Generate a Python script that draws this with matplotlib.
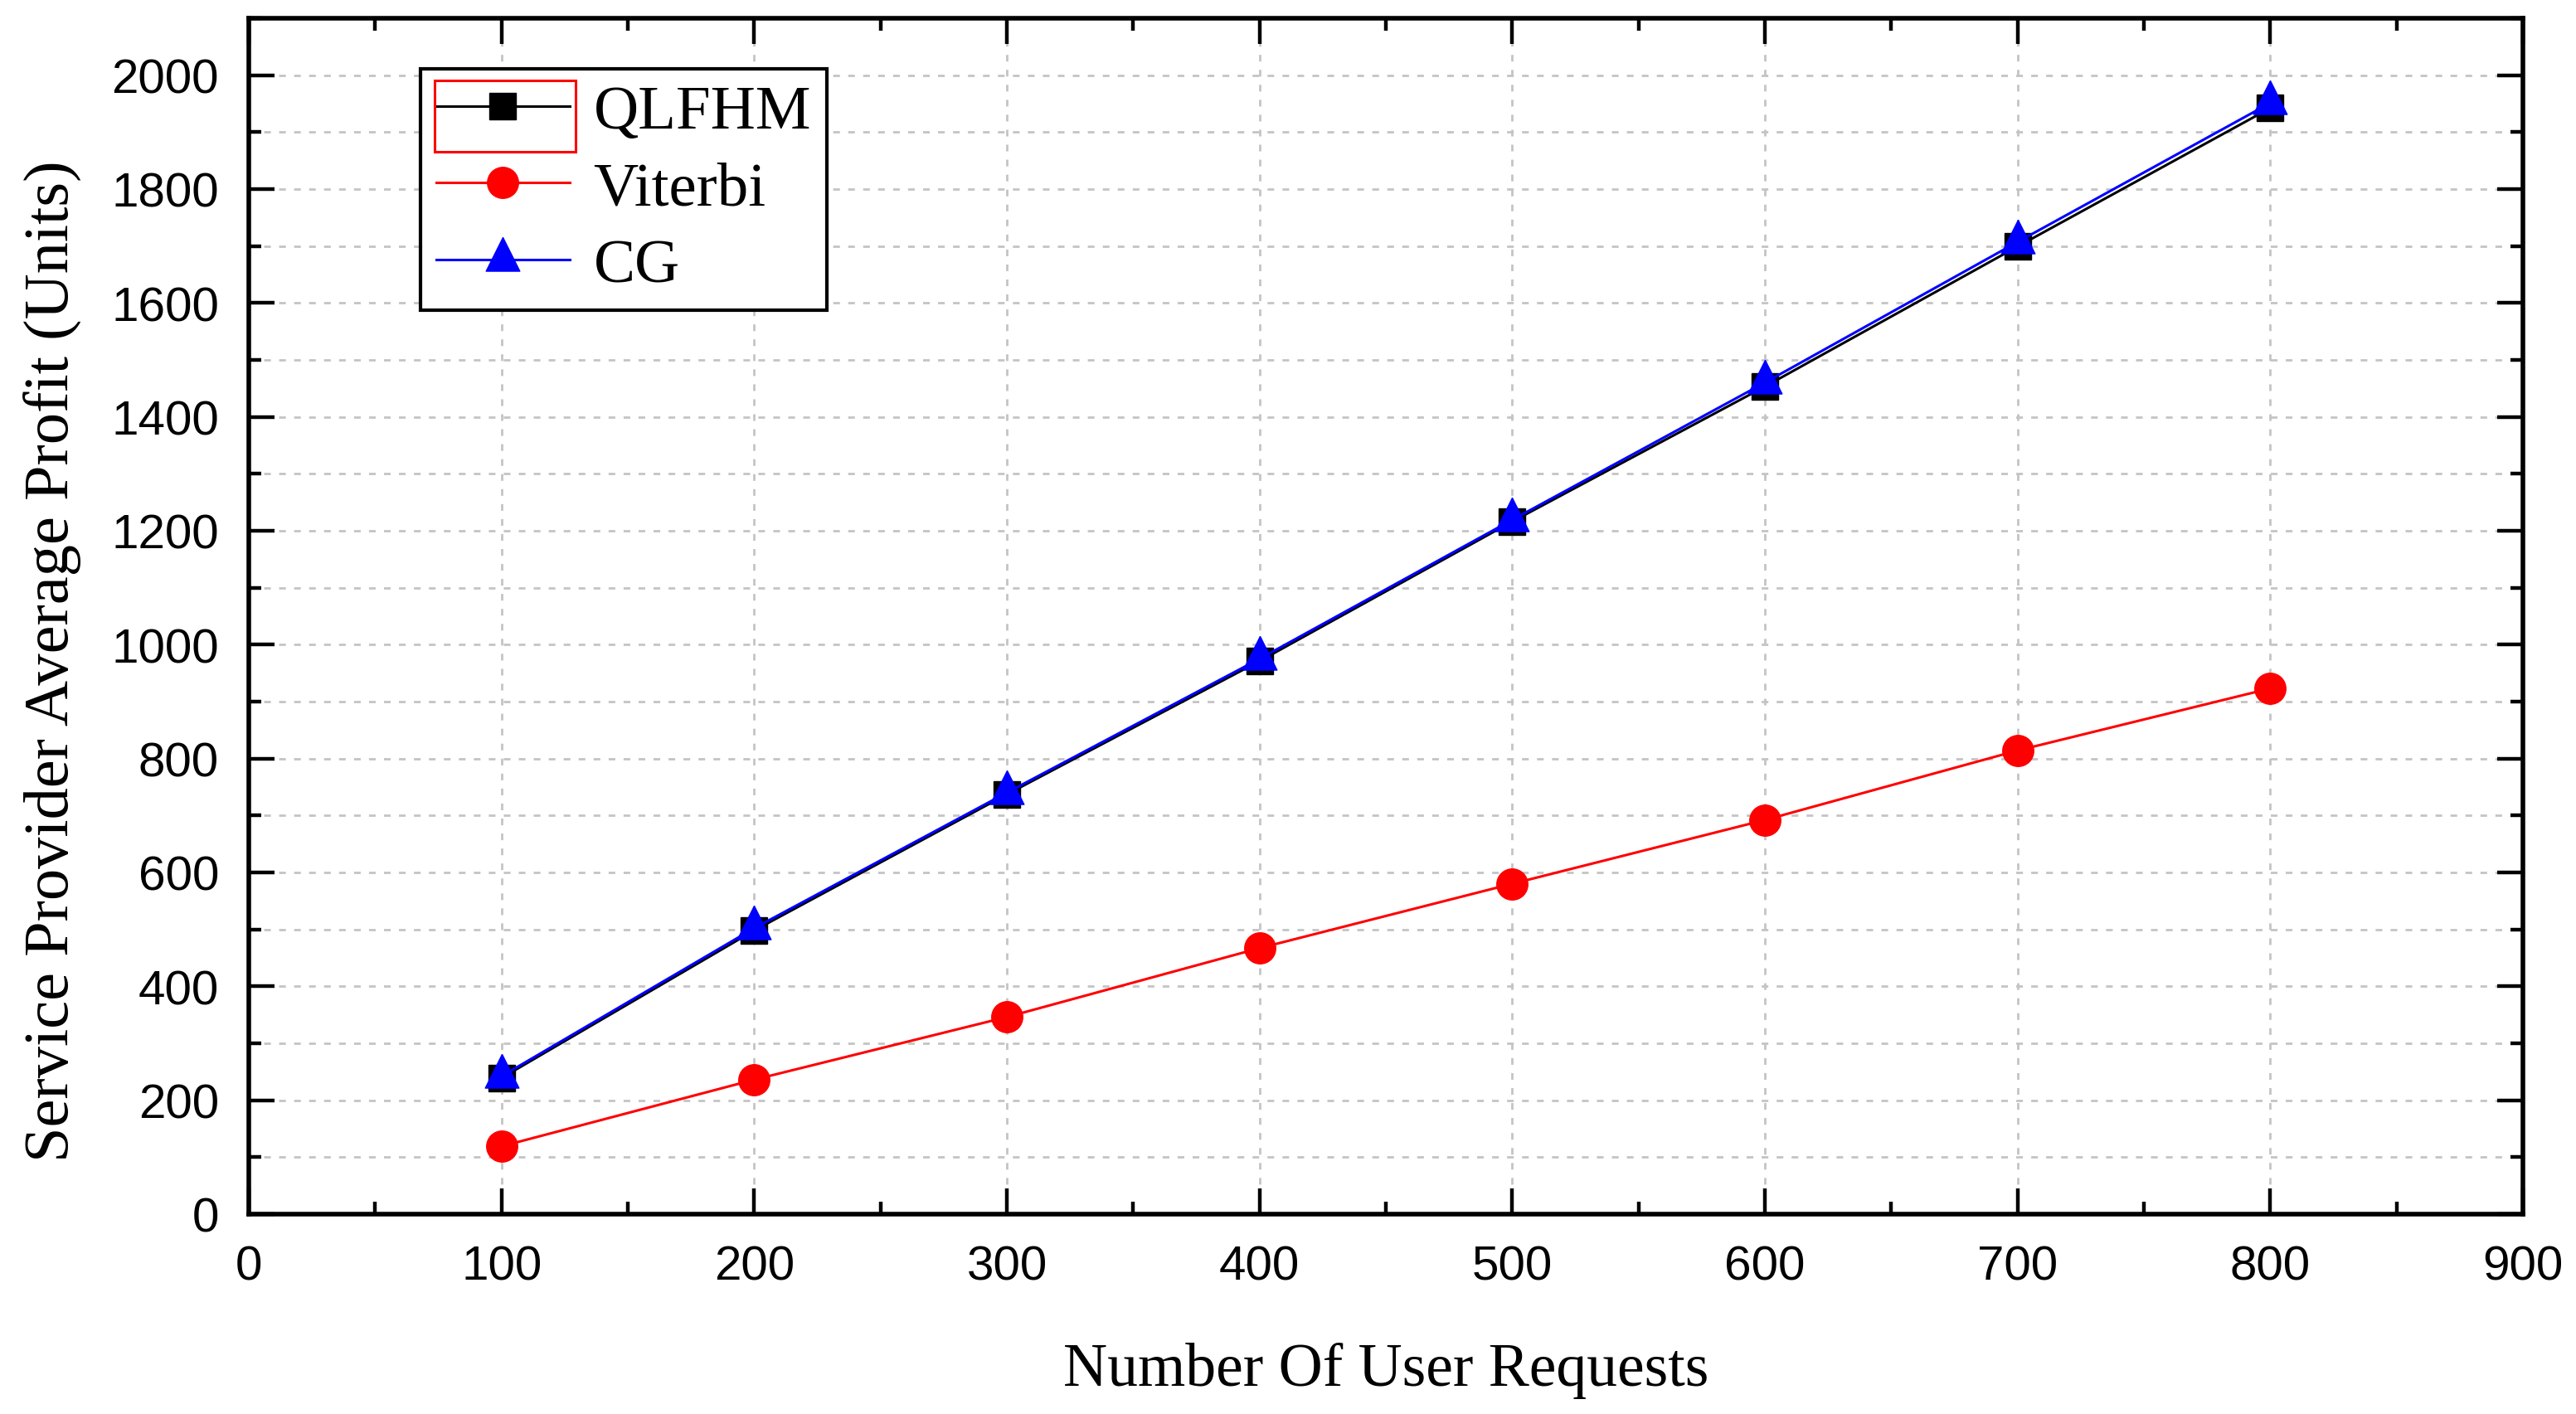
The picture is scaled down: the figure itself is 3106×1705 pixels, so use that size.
import matplotlib
matplotlib.use("Agg")
import matplotlib.pyplot as plt
from matplotlib.patches import Rectangle
from matplotlib.ticker import MultipleLocator

requests = [100, 200, 300, 400, 500, 600, 700, 800]
qlfhm = [239, 498, 737, 971, 1216, 1453, 1699, 1942]
viterbi = [119, 236, 346, 467, 580, 692, 814, 923]
cg = [242, 502, 740, 975, 1219, 1460, 1707, 1951]

series_names = ["QLFHM", "Viterbi", "CG"]
x_label = "Number Of User Requests"
y_label = "Service Provider Average Profit (Units)"

serif = ["Liberation Serif", "DejaVu Serif"]
sans = ["Liberation Sans", "DejaVu Sans"]

# triangle centred on its centroid, like Origin draws it
tri = [(0, 1), (-0.75, -0.5), (0.75, -0.5), (0, 1)]

fig = plt.figure(figsize=(31.06, 17.06), dpi=100)
ax = fig.add_axes([0.0966, 0.1413, 0.8828, 0.8453])

ax.plot(requests, qlfhm, color="black", lw=2.2, marker="s", ms=23,
        label=series_names[0], zorder=3)
ax.plot(requests, viterbi, color="#ff0000", lw=2.2, marker="o", ms=27,
        label=series_names[1], zorder=3)
ax.plot(requests, cg, color="#0000ff", lw=2.2, marker=tri, ms=39,
        label=series_names[2], zorder=4)

ax.set_xlim(0, 900)
ax.set_ylim(0, 2100)
ax.xaxis.set_major_locator(MultipleLocator(100))
ax.xaxis.set_minor_locator(MultipleLocator(50))
ax.yaxis.set_major_locator(MultipleLocator(200))
ax.yaxis.set_minor_locator(MultipleLocator(100))

grid_style = dict(color="#c4c4c4", lw=2, linestyle=(0, (2.9, 3.6)), zorder=1)
ax.grid(which="major", axis="both", **grid_style)
ax.grid(which="minor", axis="y", **grid_style)
ax.set_axisbelow(True)

for s in ax.spines.values():
    s.set_linewidth(4)
ax.tick_params(which="both", direction="in", top=True, right=True,
               colors="black")
ax.tick_params(which="major", length=22, width=3.2, pad=26)
ax.tick_params(which="minor", length=11, width=3.2)
for lab in ax.get_xticklabels() + ax.get_yticklabels():
    lab.set_family(sans)
    lab.set_fontsize(42)

ax.set_xlabel(x_label, family=serif, fontsize=53, labelpad=46)
ax.set_ylabel(y_label, family=serif, fontsize=55)
ax.yaxis.set_label_coords(-0.0735, 0.463)

leg = ax.legend(loc="upper left", bbox_to_anchor=(0.0755, 0.9577),
                borderaxespad=0, prop={"family": serif, "size": 54},
                handlelength=2.15, handletextpad=0.38, borderpad=0.25,
                labelspacing=0.32, fancybox=False, framealpha=1,
                edgecolor="black")
leg.get_frame().set_linewidth(3)

# red selection box around the first legend symbol
ax.add_patch(Rectangle((0.0817, 0.888), 0.062, 0.06, transform=ax.transAxes,
                       fill=False, edgecolor="#ff0000", lw=2.2, zorder=10,
                       clip_on=False))

fig.savefig("out.png", dpi=100)
